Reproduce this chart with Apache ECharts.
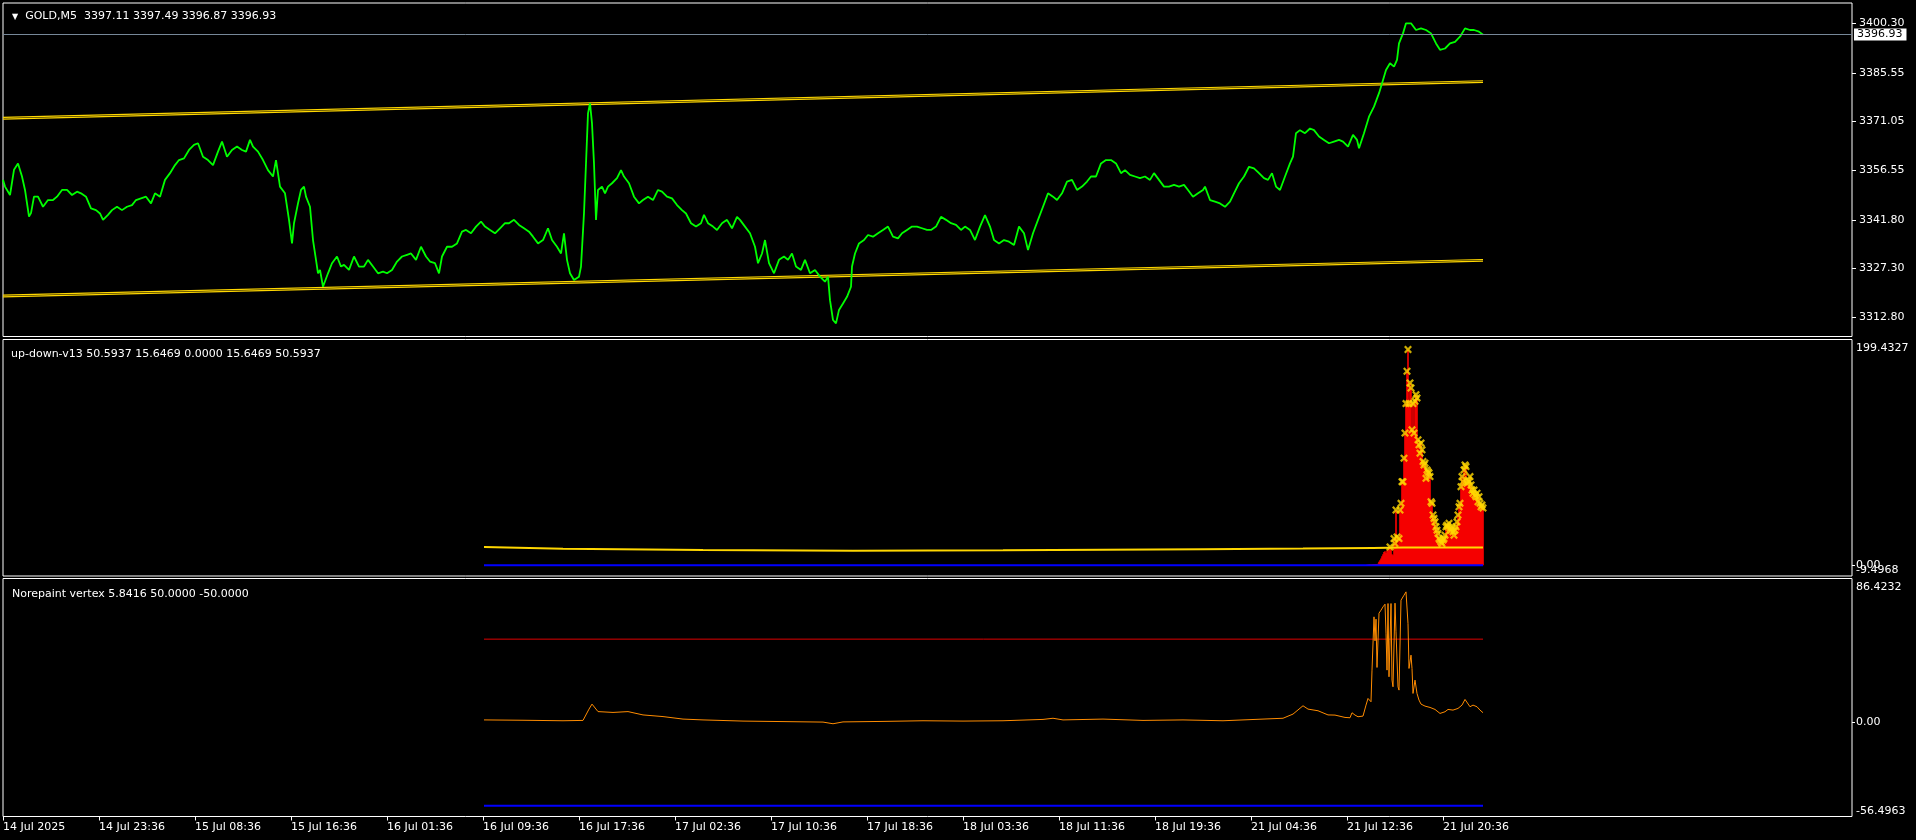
<!DOCTYPE html>
<html><head><meta charset="utf-8">
<script src="https://cdn.jsdelivr.net/npm/echarts@6/dist/echarts.min.js"></script>
<style>html,body{margin:0;padding:0;background:#000;}#c{width:1916px;height:840px;}</style>
</head><body><div id="c"></div>
<script>
// ---------- time axis ----------
const timeLabels = ['14 Jul 2025','14 Jul 23:36','15 Jul 08:36','15 Jul 16:36','16 Jul 01:36','16 Jul 09:36','16 Jul 17:36','17 Jul 02:36','17 Jul 10:36','17 Jul 18:36','18 Jul 03:36','18 Jul 11:36','18 Jul 19:36','21 Jul 04:36','21 Jul 12:36','21 Jul 20:36'];
const barsPerLabel = 96;
const totalBars = 1849;

// ---------- main window: GOLD,M5 ----------
const symbolName = 'GOLD,M5';
const ohlc = ['3397.11','3397.49','3396.87','3396.93'];
const priceTicks = [3312.80, 3327.30, 3341.80, 3356.55, 3371.05, 3385.55, 3400.30];
const priceMin = 3307.09, priceMax = 3406.34;
const lastPrice = 3396.93;
const priceBars = [0,2,7,11,15,19,22,26,28,31,35,40,45,50,54,59,64,69,74,78,83,88,93,97,100,105,109,114,119,124,129,133,138,143,148,152,157,162,167,172,176,181,186,191,195,200,205,210,215,219,224,229,234,239,243,247,250,255,260,265,270,273,277,282,286,289,291,295,298,301,303,307,310,313,315,317,320,325,329,334,338,341,346,351,356,361,365,370,375,380,384,389,394,399,404,408,413,418,423,427,432,436,439,444,449,454,459,463,468,473,478,482,487,492,497,502,506,511,516,521,526,530,535,540,545,549,554,558,561,564,567,571,576,578,581,583,585,587,589,591,593,595,599,602,605,609,614,618,621,626,631,636,640,645,650,655,659,664,669,674,679,683,688,693,698,701,705,710,714,719,724,729,734,737,742,747,752,755,759,762,766,771,776,781,785,789,793,798,802,807,812,817,822,825,827,830,833,836,840,844,848,849,852,856,861,865,870,875,880,885,890,895,899,904,909,914,919,924,928,933,938,943,948,953,958,962,967,972,977,982,987,991,996,1001,1006,1011,1016,1021,1025,1030,1035,1040,1045,1050,1054,1059,1064,1069,1074,1079,1084,1088,1093,1098,1103,1108,1113,1118,1122,1127,1132,1137,1142,1147,1151,1156,1161,1166,1171,1176,1181,1185,1190,1195,1200,1202,1207,1212,1217,1222,1227,1231,1236,1241,1246,1251,1256,1261,1265,1269,1273,1277,1282,1287,1290,1293,1297,1302,1307,1311,1316,1321,1326,1331,1336,1340,1345,1350,1354,1356,1361,1366,1371,1376,1379,1383,1387,1391,1394,1396,1400,1403,1408,1413,1418,1423,1428,1433,1437,1442,1447,1452,1457,1462,1467,1471,1476,1480];
const priceVals = [3353.7,3351.7,3349.2,3356.7,3358.6,3354.7,3350.7,3342.8,3343.8,3348.7,3348.7,3345.7,3347.7,3347.7,3348.7,3350.7,3350.7,3349.2,3350.2,3349.7,3348.7,3345.2,3344.7,3343.7,3341.8,3343.3,3344.7,3345.7,3344.7,3345.7,3346.2,3347.7,3348.2,3348.7,3346.7,3349.7,3348.7,3353.7,3355.7,3358.1,3359.6,3360.1,3362.6,3364.1,3364.6,3360.6,3359.6,3358.1,3362.1,3365.1,3360.6,3362.6,3363.6,3362.6,3362.1,3365.6,3363.6,3362.1,3359.6,3356.6,3354.7,3359.6,3351.7,3349.7,3341.8,3334.8,3340.8,3346.7,3350.7,3351.7,3348.7,3345.7,3335.8,3329.9,3325.9,3326.9,3321.9,3325.9,3328.9,3330.9,3327.9,3328.4,3326.9,3330.9,3327.9,3327.9,3329.9,3327.9,3325.9,3326.4,3325.9,3326.9,3329.4,3330.9,3331.4,3331.8,3329.9,3333.8,3330.9,3329.4,3328.9,3325.9,3330.9,3333.8,3333.8,3334.8,3338.3,3338.8,3337.8,3339.8,3341.3,3339.8,3338.8,3337.8,3339.3,3340.8,3340.8,3341.8,3340.3,3339.3,3338.3,3336.8,3334.8,3335.8,3339.3,3335.8,3333.8,3331.8,3337.8,3329.9,3325.9,3323.9,3324.9,3327.9,3343.8,3358.6,3373.5,3376.5,3370.5,3358.6,3341.8,3350.7,3351.7,3349.7,3351.7,3352.7,3354.2,3356.6,3354.7,3352.7,3348.7,3346.7,3347.7,3348.7,3347.7,3350.7,3350.2,3348.7,3348.2,3346.2,3344.7,3343.7,3340.8,3339.8,3340.8,3343.3,3340.8,3339.8,3338.8,3340.8,3341.8,3339.3,3342.7,3341.8,3339.8,3337.8,3333.8,3328.9,3331.8,3335.8,3328.9,3325.9,3329.9,3330.9,3329.9,3331.8,3327.9,3326.9,3329.9,3325.9,3326.9,3324.9,3323.4,3324.9,3317.9,3312.0,3311.0,3315.0,3316.9,3318.9,3321.9,3327.9,3331.8,3334.8,3335.8,3337.3,3336.8,3337.8,3338.8,3339.8,3336.8,3336.3,3337.8,3338.8,3339.8,3339.8,3339.3,3338.8,3338.8,3339.8,3342.7,3341.8,3340.8,3340.3,3338.8,3339.8,3338.8,3335.8,3339.8,3343.2,3339.8,3335.8,3334.8,3335.8,3335.3,3334.3,3339.8,3337.8,3332.8,3337.8,3341.8,3345.7,3349.7,3348.7,3347.7,3349.7,3353.2,3353.7,3350.7,3351.7,3353.2,3354.7,3354.7,3358.6,3359.6,3359.6,3358.6,3355.7,3356.6,3355.2,3354.7,3354.2,3354.7,3353.7,3355.7,3353.7,3351.7,3351.7,3352.2,3351.7,3352.2,3350.7,3348.7,3349.7,3350.7,3351.7,3347.7,3347.2,3346.7,3345.7,3347.2,3349.7,3352.7,3354.7,3357.6,3357.1,3355.7,3354.2,3353.7,3355.7,3351.7,3350.7,3354.7,3358.6,3360.6,3367.6,3368.5,3367.6,3369.0,3368.5,3366.6,3365.6,3364.6,3365.1,3365.6,3365.1,3363.6,3367.1,3365.6,3363.1,3367.6,3372.5,3375.5,3379.5,3382.4,3386.4,3388.4,3387.4,3389.4,3394.3,3397.3,3400.3,3400.3,3398.3,3398.8,3398.3,3397.3,3394.3,3392.4,3392.8,3394.3,3394.8,3396.3,3398.8,3398.3,3398.3,3397.8,3396.93];
const channelBars = [0, 1480];
const upperChannel = [3371.8, 3382.7];
const lowerChannel = [3318.9, 3329.5];

// ---------- window 2: up-down-v13 ----------
const udName = 'up-down-v13';
const udLegend = ['50.5937','15.6469','0.0000','15.6469','50.5937'];
const udMin = -9.4968, udMax = 199.4327;
const histStart = 1364;
const histVals = [0.5,0.5,0.6,0.6,0.7,0.7,0.8,0.8,0.9,1.0,1.2,1.4,3.0,4.4,6.0,8.0,9.8,11.8,12.4,10.9,13.3,12.7,14.8,16.2,14.8,9.8,8.8,23.6,19.2,48.8,25.0,14.8,23.6,48.8,54.7,73.8,73.8,94.6,116.8,142.8,171.4,190.6,142.8,161.1,156.6,119.6,142.8,116.8,144.8,150.7,147.8,110.8,106.4,99.0,107.9,102.0,91.6,88.6,90.2,76.8,84.2,82.7,81.6,78.3,56.1,54.7,44.4,41.4,38.4,34.0,31.0,28.1,23.6,22.2,20.6,19.2,22.2,23.6,26.6,34.0,35.4,34.0,37.0,32.6,31.0,32.6,29.6,26.6,31.0,34.0,38.4,44.4,51.7,54.7,69.4,78.3,73.8,84.2,88.6,87.2,72.4,75.4,73.8,78.3,71.0,66.4,63.6,66.4,62.0,60.6,63.6,56.1,60.6,54.7,51.7,53.2,50.59];
const udSignalBars = [481, 560, 700, 850, 1000, 1100, 1200, 1300, 1370, 1400, 1480];
const udSignalVals = [16.1, 14.5, 13.4, 12.9, 13.2, 13.6, 14.2, 14.8, 15.3, 15.6, 15.65];
const udBaseBars = [481, 1480];
const udBaseVals = [0, 0];

// ---------- window 3: Norepaint vertex ----------
const nvName = 'Norepaint vertex';
const nvLegend = ['5.8416','50.0000','-50.0000'];
const nvMin = -56.4963, nvMax = 86.4232;
const nvBars = [481,520,560,580,586,589,595,610,625,640,660,680,700,740,780,820,830,840,880,920,960,1000,1040,1050,1060,1100,1140,1180,1220,1260,1280,1290,1300,1305,1315,1325,1327,1332,1342,1347,1349,1352,1355,1360,1363,1365,1368,1369,1371,1372,1373,1374,1375,1376,1378,1380,1382,1383,1384,1385,1386,1388,1389,1390,1392,1393,1395,1396,1398,1399,1401,1403,1404,1405,1406,1408,1409,1410,1412,1414,1416,1418,1422,1427,1432,1437,1442,1445,1450,1455,1459,1462,1464,1467,1470,1474,1477,1480];
const nvVals = [1.5,1.3,1.0,1.2,8,11,6.5,6.0,6.5,4.5,3.5,2,1.5,0.8,0.5,0.2,-0.8,0.3,0.6,1,0.8,1,1.8,2.5,1.5,2,1.2,1.5,1,2,2.5,5,10,8,7,4.5,3.8,4.4,3.0,2.8,5.8,4.4,3.4,3.8,10.4,14.4,12.4,31.4,63.4,49,62,33,32.6,65.6,67.4,69.4,71,53.6,31.4,71.4,27.4,71.4,25.4,21.4,71.6,54.4,21.4,19.4,73.4,74.4,76.4,78.4,79.4,59.4,32.4,40.4,32.4,17.4,25.4,17.4,13.4,11,9.8,9.0,7.8,5.4,6.4,7.8,7.4,8.4,10.4,13.8,13.8,9.4,10.4,9.4,7.4,5.8416];
const nvLevelBars = [481, 1480];
const nvUpperVals = [50, 50];
const nvLowerVals = [-50, -50];

// ---------- build ----------
const FONT = 'DejaVu Sans';
const pairs = (xs, ys) => xs.map((x, i) => [x, ys[i]]);
const tickVals = timeLabels.map((_, i) => i * barsPerLabel);
const grids = [
  {left: 3, right: 64, top: 3, height: 333.5},
  {left: 3, right: 64, top: 339.5, height: 236.5},
  {left: 3, right: 64, top: 578.5, height: 238}
].map(g => Object.assign({show: true, borderColor: '#ffffff', borderWidth: 1, backgroundColor: 'transparent'}, g));

const xAxes = [0, 1, 2].map(i => ({
  type: 'value', gridIndex: i, position: 'bottom', min: 0, max: totalBars, interval: barsPerLabel,
  axisLine: {show: false, onZero: false}, splitLine: {show: false},
  axisTick: {show: i === 2, customValues: tickVals, length: 4, lineStyle: {color: '#ffffff'}},
  axisLabel: {show: i === 2, customValues: tickVals, align: 'left', margin: 5,
    color: '#ffffff', fontFamily: FONT, fontSize: 11,
    formatter: v => timeLabels[Math.round(v / barsPerLabel)]}
}));

function subAxes(grid, mn, mx) {
  const base = {type: 'value', gridIndex: grid, position: 'right', min: mn, max: mx,
    axisLine: {show: false, onZero: false}, splitLine: {show: false}};
  const lab = {color: '#ffffff', fontFamily: FONT, fontSize: 11, margin: 4};
  return [
    Object.assign({}, base, {axisTick: {show: true, customValues: [0], length: 3, lineStyle: {color: '#fff'}},
      axisLabel: Object.assign({}, lab, {customValues: [0], formatter: () => '0.00'})}),
    Object.assign({}, base, {axisTick: {show: false},
      axisLabel: Object.assign({}, lab, {customValues: [mx], verticalAlign: 'top', padding: [3, 0, 0, 0], formatter: v => v.toFixed(4)})}),
    Object.assign({}, base, {axisTick: {show: false},
      axisLabel: Object.assign({}, lab, {customValues: [mn], verticalAlign: 'bottom', formatter: v => v.toFixed(4)})})
  ];
}

const yAxes = [
  {type: 'value', gridIndex: 0, position: 'right', min: priceMin, max: priceMax,
   axisLine: {show: false, onZero: false}, splitLine: {show: false},
   axisTick: {show: true, customValues: priceTicks, length: 4, lineStyle: {color: '#ffffff'}},
   axisLabel: {customValues: priceTicks, formatter: v => v.toFixed(2), color: '#ffffff', fontFamily: FONT, fontSize: 11, margin: 7}},
  {type: 'value', gridIndex: 0, position: 'right', min: priceMin, max: priceMax,
   axisLine: {show: false, onZero: false}, splitLine: {show: false}, axisTick: {show: false},
   axisLabel: {customValues: [lastPrice], formatter: v => v.toFixed(2), color: '#000000', backgroundColor: '#ffffff',
     padding: [1, 4, 0, 3], fontFamily: FONT, fontSize: 11, margin: 2}}
].concat(subAxes(1, udMin, udMax), subAxes(2, nvMin, nvMax));
// y indices: 0,1 main; 2,3,4 window2; 5,6,7 window3

const xPath = 'path://M0,2 L2,0 L5,3 L8,0 L10,2 L7,5 L10,8 L8,10 L5,7 L2,10 L0,8 L3,5 Z';
const histData = histVals.map((v, i) => [histStart + i, v]);
const threshold = parseFloat(udLegend[1]);

const line = (xi, yi, data, color, width, extra) => Object.assign({
  type: 'line', xAxisIndex: xi, yAxisIndex: yi, data: data, showSymbol: false, symbol: 'none',
  lineStyle: {color: color, width: width}, silent: true, z: 3
}, extra || {});

const series = [
  line(0, 0, pairs(channelBars, upperChannel), '#FFD700', 1.2),
  line(0, 0, pairs(channelBars, upperChannel.map(v => v + 0.5)), '#FFD700', 1.2),
  line(0, 0, pairs(channelBars, lowerChannel), '#FFD700', 1.2),
  line(0, 0, pairs(channelBars, lowerChannel.map(v => v + 0.5)), '#FFD700', 1.2),
  line(0, 0, pairs(priceBars, priceVals), '#00FF00', 1.8, {z: 4,
    markLine: {silent: true, symbol: 'none', label: {show: false}, animation: false,
      lineStyle: {color: '#778899', width: 1, type: 'solid'}, data: [{yAxis: lastPrice}]}}),
  {type: 'bar', xAxisIndex: 1, yAxisIndex: 2, data: histData, barWidth: 1.6, silent: true,
   itemStyle: {color: '#FF0000'}, z: 2},
  line(1, 2, pairs(udSignalBars, udSignalVals), '#FFD700', 2),
  line(1, 2, pairs(udBaseBars, udBaseVals), '#0000FF', 2),
  {type: 'scatter', xAxisIndex: 1, yAxisIndex: 2, symbol: xPath, symbolSize: 8, silent: true,
   data: histData.filter(d => d[1] > threshold), itemStyle: {color: '#FFD700'}, z: 5},
  line(2, 5, pairs(nvLevelBars, nvUpperVals), '#E00000', 1),
  line(2, 5, pairs(nvLevelBars, nvLowerVals), '#0000FF', 2),
  line(2, 5, pairs(nvBars, nvVals), '#FF8C00', 1, {z: 4})
];

const titleStyle = {color: '#ffffff', fontFamily: FONT, fontSize: 11, fontWeight: 'normal'};
const titles = [
  {text: '{t|▼}  ' + symbolName + '  ' + ohlc.join(' '), left: 7, top: 6,
   textStyle: Object.assign({}, titleStyle, {rich: {t: {fontSize: 8, color: '#ffffff', fontFamily: FONT}}})},
  {text: udName + ' ' + udLegend.join(' '), left: 6, top: 344, textStyle: titleStyle},
  {text: nvName + ' ' + nvLegend.join(' '), left: 7, top: 584, textStyle: titleStyle}
];

const chart = echarts.init(document.getElementById('c'), null, {renderer: 'canvas'});
chart.setOption({
  backgroundColor: '#000000', animation: false,
  title: titles, grid: grids, xAxis: xAxes, yAxis: yAxes, series: series
});
</script></body></html>
